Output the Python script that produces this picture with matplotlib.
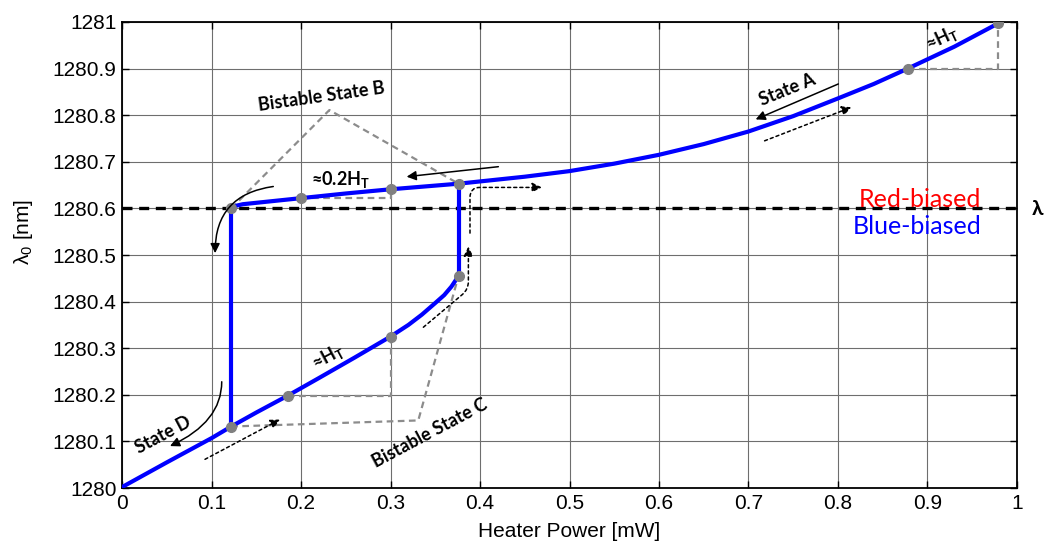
import numpy as np
import matplotlib
matplotlib.use("Agg")
import matplotlib.pyplot as plt
from matplotlib.patches import FancyArrowPatch

plt.rcParams['font.family'] = ['Liberation Sans', 'DejaVu Sans']
plt.rcParams['mathtext.fontset'] = 'custom'
plt.rcParams['mathtext.rm'] = 'Lato'
plt.rcParams['mathtext.bf'] = 'Lato:bold'

# lower (blue-biased) branch, heater power [mW] vs resonance [nm]
lower_x = [0.0, 0.05, 0.1, 0.122, 0.15, 0.185, 0.22, 0.26, 0.30, 0.32, 0.335, 0.35, 0.36, 0.368, 0.376]
lower_y = [1280.002, 1280.055, 1280.107, 1280.132, 1280.162, 1280.198, 1280.236, 1280.28, 1280.325,
           1280.35, 1280.372, 1280.397, 1280.414, 1280.432, 1280.455]

# upper (red-biased) branch
upper_x = [0.122, 0.126, 0.135, 0.16, 0.2, 0.25, 0.3, 0.376, 0.45, 0.5, 0.55, 0.6, 0.65, 0.7,
           0.75, 0.8, 0.84, 0.878, 0.93, 0.979]
upper_y = [1280.600, 1280.605, 1280.609, 1280.614, 1280.622, 1280.632, 1280.641, 1280.653, 1280.668,
           1280.680, 1280.696, 1280.715, 1280.738, 1280.765, 1280.798, 1280.836, 1280.867, 1280.900,
           1280.947, 1280.997]

# jump powers
jump_down_x = 0.122
jump_up_x = 0.376

# highlighted operating points
pts_x = [0.122, 0.2, 0.3, 0.376, 0.376, 0.3, 0.185, 0.122, 0.878, 0.979]
pts_y = [1280.600, 1280.622, 1280.641, 1280.653, 1280.455, 1280.325, 1280.198, 1280.132, 1280.900, 1280.997]

lambda_ref = 1280.6

fig = plt.figure(figsize=(10.44, 5.44), dpi=100)
ax = fig.add_axes([0.1169, 0.1029, 0.8572, 0.8567])

# grid and reference line
ax.set_xlim(0, 1)
ax.set_ylim(1280, 1281)
ax.set_xticks(np.arange(0, 1.01, 0.1))
ax.set_yticks(np.arange(1280, 1281.01, 0.1))
ax.set_xticklabels(['0', '0.1', '0.2', '0.3', '0.4', '0.5', '0.6', '0.7', '0.8', '0.9', '1'])
ax.set_yticklabels(['1280', '1280.1', '1280.2', '1280.3', '1280.4', '1280.5', '1280.6',
                    '1280.7', '1280.8', '1280.9', '1281'])
ax.grid(True, color='#6e6e6e', lw=0.8)
ax.tick_params(direction='in', top=True, right=True, labelsize=15, length=5, width=1, pad=4)
for s in ax.spines.values():
    s.set_linewidth(1.3)
ax.set_axisbelow(True)

ax.axhline(lambda_ref, color='black', ls=(0, (3, 2)), lw=2.4, zorder=3)

# gray dashed guides
g = dict(color='#8c8c8c', ls=(0, (3, 2)), lw=1.6, zorder=2)
ax.plot([0.122, 0.2317, 0.376], [1280.600, 1280.811, 1280.653], **g)
ax.plot([0.2, 0.3, 0.3], [1280.622, 1280.622, 1280.641], **g)
ax.plot([0.185, 0.3, 0.3], [1280.198, 1280.198, 1280.325], **g)
ax.plot([0.122, 0.331, 0.376], [1280.132, 1280.145, 1280.455], **g)
ax.plot([0.878, 0.979, 0.979], [1280.900, 1280.900, 1280.997], **g)

# hysteresis loop
blue = '#0000ff'
ax.plot(lower_x, lower_y, color=blue, lw=3, zorder=4, solid_capstyle='round')
ax.plot(upper_x, upper_y, color=blue, lw=3, zorder=4, solid_capstyle='round')
ax.plot([jump_down_x, jump_down_x], [lower_y[3], upper_y[0]], color=blue, lw=3, zorder=4)
ax.plot([jump_up_x, jump_up_x], [lower_y[-1], upper_y[7]], color=blue, lw=3, zorder=4)
ax.plot(pts_x, pts_y, 'o', color='#808080', ms=7, zorder=5)

# direction arrows
def arrow(p0, p1, dotted=False, cs='arc3'):
    a = FancyArrowPatch(p0, p1, connectionstyle=cs, arrowstyle='-|>', mutation_scale=14,
                        color='black', lw=1.1, ls=(0, (2, 2)) if dotted else '-', zorder=6,
                        shrinkA=0, shrinkB=0)
    ax.add_patch(a)

arrow((0.8004, 1280.867), (0.708, 1280.791))
arrow((0.718, 1280.745), (0.815, 1280.817), dotted=True)
arrow((0.4205, 1280.6895), (0.318, 1280.668))
arrow((0.169, 1280.647), (0.104, 1280.504), cs='angle3,angleA=8,angleB=90')
arrow((0.3367, 1280.345), (0.387, 1280.518), dotted=True, cs='angle,angleA=40,angleB=90,rad=8')
arrow((0.3888, 1280.547), (0.469, 1280.645), dotted=True, cs='angle,angleA=90,angleB=0,rad=10')
arrow((0.1114, 1280.228), (0.0536, 1280.090), cs='angle3,angleA=90,angleB=25')
arrow((0.0927, 1280.0616), (0.1765, 1280.147), dotted=True)

# annotations
lab = dict(family=['Lato', 'DejaVu Sans'], fontweight='bold', fontsize=13, ha='center',
           va='center', zorder=7)
ax.text(0.223, 1280.84, 'Bistable State B', rotation=8, **lab)
ax.text(0.344, 1280.118, 'Bistable State C', rotation=28, **lab)
ax.text(0.743, 1280.854, 'State A', rotation=22, **lab)
ax.text(0.046, 1280.114, 'State D', rotation=28, **lab)
ax.text(0.244, 1280.661, r'≈0.2H$_{\mathbf{T}}$', **lab)
ax.text(0.2305, 1280.282, r'≈H$_{\mathbf{T}}$', rotation=28, **lab)
ax.text(0.916, 1280.965, r'≈H$_{\mathbf{T}}$', rotation=25, **lab)

ax.text(0.8916, 1280.619, 'Red-biased', color='red', fontsize=18, family=['Lato', 'DejaVu Sans'],
        ha='center', va='center', zorder=7)
ax.text(0.889, 1280.561, 'Blue-biased', color=blue, fontsize=18, family=['Lato', 'DejaVu Sans'],
        ha='center', va='center', zorder=7)
fig.text(1032 / 1044, 1 - 209 / 544, 'λ', fontsize=15, fontweight='bold',
         family=['Lato', 'DejaVu Sans'], ha='left', va='center')

ax.set_xlabel('Heater Power [mW]', fontsize=15, labelpad=7)
ax.set_ylabel(r'λ$_{\mathregular{0}}$ [nm]', fontsize=15)
ax.yaxis.set_label_coords(-0.097, 0.55)

fig.savefig('out.png', dpi=100)
